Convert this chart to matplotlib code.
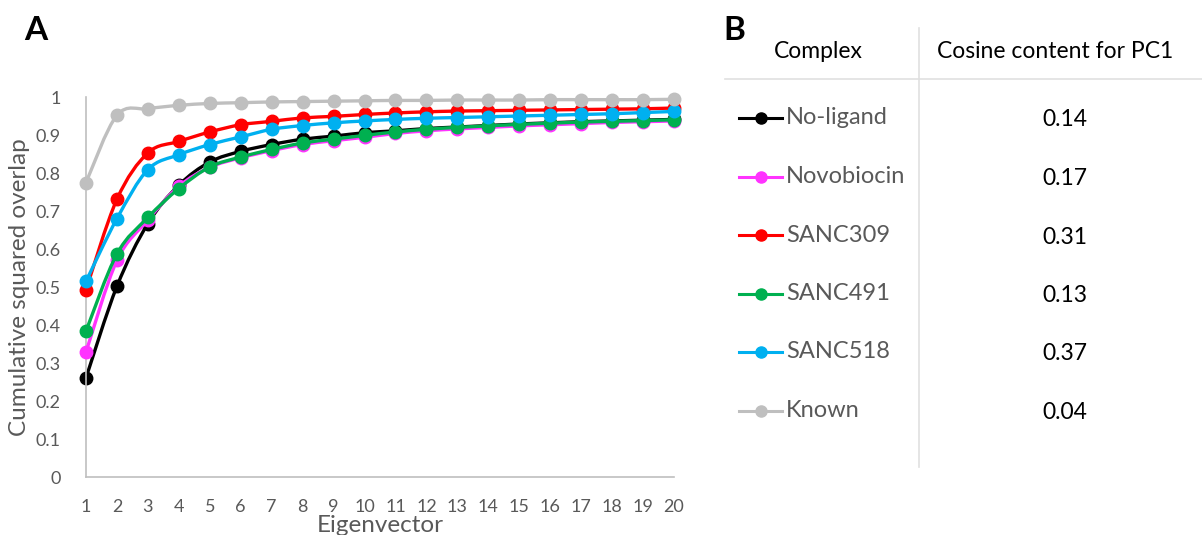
import numpy as np
import matplotlib.pyplot as plt
from matplotlib.path import Path
from matplotlib.patches import PathPatch

plt.rcParams['font.family'] = ['Lato', 'DejaVu Sans']

eigvec = list(range(1, 21))
names = ['No-ligand', 'Novobiocin', 'SANC309', 'SANC491', 'SANC518', 'Known']
colors = ['#000000', '#FF33FF', '#FF0000', '#00B050', '#00B0F0', '#BFBFBF']
cosine = ['0.14', '0.17', '0.31', '0.13', '0.37', '0.04']

no_ligand = [0.261, 0.502, 0.667, 0.768, 0.829, 0.857, 0.875, 0.889, 0.897, 0.906,
             0.911, 0.917, 0.921, 0.925, 0.929, 0.932, 0.935, 0.937, 0.939, 0.941]
novobiocin = [0.329, 0.570, 0.676, 0.765, 0.815, 0.840, 0.859, 0.875, 0.885, 0.894,
              0.904, 0.911, 0.916, 0.920, 0.924, 0.927, 0.930, 0.933, 0.935, 0.937]
sanc309 = [0.493, 0.731, 0.853, 0.883, 0.908, 0.927, 0.936, 0.945, 0.949, 0.954,
           0.958, 0.961, 0.963, 0.964, 0.965, 0.966, 0.967, 0.968, 0.969, 0.971]
sanc491 = [0.384, 0.587, 0.683, 0.759, 0.816, 0.842, 0.862, 0.879, 0.889, 0.899,
           0.908, 0.915, 0.920, 0.924, 0.928, 0.931, 0.934, 0.936, 0.938, 0.940]
sanc518 = [0.515, 0.680, 0.809, 0.848, 0.875, 0.895, 0.915, 0.925, 0.932, 0.937,
           0.941, 0.944, 0.946, 0.948, 0.950, 0.952, 0.954, 0.956, 0.959, 0.962]
known = [0.775, 0.952, 0.969, 0.978, 0.983, 0.985, 0.987, 0.988, 0.989, 0.990,
         0.991, 0.991, 0.992, 0.992, 0.992, 0.993, 0.993, 0.993, 0.993, 0.994]
series = [no_ligand, novobiocin, sanc309, sanc491, sanc518, known]


def smooth_path(x, y):
    # bezier through the points, like excel's smoothed line
    p = np.column_stack([x, y]).astype(float)
    verts = [p[0]]
    codes = [Path.MOVETO]
    n = len(p)
    for i in range(n - 1):
        p0 = p[i - 1] if i > 0 else p[i]
        p3 = p[i + 2] if i + 2 < n else p[i + 1]
        c1 = p[i] + (p[i + 1] - p0) / 6
        c2 = p[i + 1] - (p3 - p[i]) / 6
        verts += [c1, c2, p[i + 1]]
        codes += [Path.CURVE4] * 3
    return Path(verts, codes)


fig = plt.figure(figsize=(12.02, 5.35), dpi=100)
W, H = 1202, 535

# panel A
ax = fig.add_axes([86 / W, 58 / H, 588 / W, 380 / H])
for k, (vals, c) in enumerate(zip(series, colors)):
    ax.add_patch(PathPatch(smooth_path(eigvec, vals), fill=False, edgecolor=c,
                           lw=2.4, clip_on=False, zorder=2 + k))
    ax.plot(eigvec, vals, 'o', color=c, ms=9, clip_on=False, zorder=2.5 + k)

ax.set_xlim(1, 20)
ax.set_ylim(0, 1)
ax.set_xticks(eigvec)
ax.set_yticks(np.arange(0, 1.01, 0.1))
ax.set_yticklabels(['0'] + ['%.1f' % v for v in np.arange(0.1, 0.95, 0.1)] + ['1'])
ax.tick_params(length=0, labelsize=13, labelcolor='#595959')
ax.tick_params(axis='y', pad=18)
ax.tick_params(axis='x', pad=16)
for s in ['top', 'right']:
    ax.spines[s].set_visible(False)
for s in ['left', 'bottom']:
    ax.spines[s].set_color('#BFBFBF')
    ax.spines[s].set_linewidth(1.2)
ax.set_xlabel('Eigenvector', fontsize=17.5, color='#595959', labelpad=0)
ax.set_ylabel('Cumulative squared overlap', fontsize=17.5, color='#595959', labelpad=4)

fig.text(36 / W, 1 - 31 / H, 'A', fontsize=24, fontweight='bold', va='center', ha='center')

# panel B table
bx = fig.add_axes([0, 0, 1, 1], zorder=-1)
bx.set_xlim(0, W)
bx.set_ylim(H, 0)
bx.axis('off')
bx.text(734, 31, 'B', fontsize=24, fontweight='bold', ha='center', va='center')
bx.text(818, 52, 'Complex', fontsize=16.5, ha='center', va='center')
bx.text(1055, 52, 'Cosine content for PC1', fontsize=16.5, ha='center', va='center')
bx.plot([725, 1202], [79, 79], color='#E0E0E0', lw=1.2)
bx.plot([919, 919], [28, 467], color='#E0E0E0', lw=1.2)

row_y = 118 + 58.5 * np.arange(len(names))
for i, (nm, c, val) in enumerate(zip(names, colors, cosine)):
    y = row_y[i]
    bx.plot([739, 782], [y, y], color=c, lw=2.2)
    bx.plot([761], [y], 'o', color=c, ms=8)
    bx.text(786, y, nm, fontsize=17, color='#595959', va='center', ha='left')
    bx.text(1065, y + 2, val, fontsize=16.5, color='black', va='center', ha='center')

fig.savefig('out.png', dpi=100)
